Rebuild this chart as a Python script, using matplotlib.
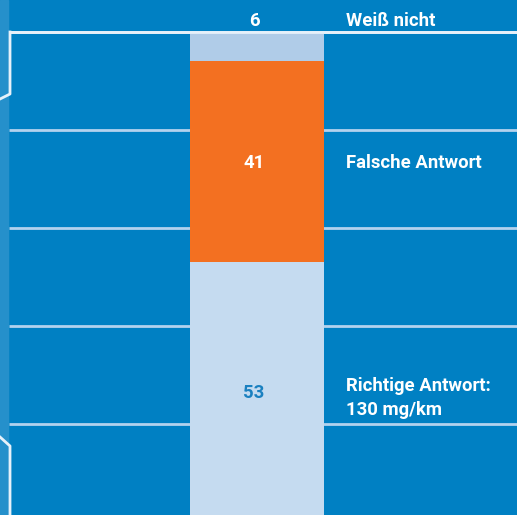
import matplotlib.pyplot as plt
import numpy as np

# answers in percent, stacked from the bottom up
answers = ['Richtige Antwort:\n130 mg/km', 'Falsche Antwort', 'Weiß nicht']
shares = [53, 41, 6]
bar_colors = ['#c5dbf0', '#f37021', '#b0cce8']
value_colors = ['#1a80c0', 'white', 'white']
grid_levels = [20, 40, 60, 80, 100]

BG = '#0080c3'
px = 4.9  # pixels per percent point


def y_of(pixel):
    # reference pixel row -> value on the axis (0 sits 7 px below the image)
    return (522 - pixel) / px


plt.rcParams['font.family'] = ['Roboto', 'DejaVu Sans']

fig = plt.figure(figsize=(5.17, 5.15), dpi=100)
fig.patch.set_facecolor(BG)
ax = fig.add_axes([0, 0, 1, 1])
ax.set_facecolor(BG)
ax.set_xlim(0, 517)
ax.set_ylim(y_of(515), y_of(0))
ax.axis('off')

# lighter strip along the left edge
ax.axvspan(0, 8, color='#2590cb', zorder=0)

# grid lines behind the bar
for level in grid_levels:
    color = '#e6f1fa' if level == 100 else '#b3d2ee'
    ax.plot([9, 517], [level, level], color=color, lw=2, zorder=1,
            solid_capstyle='butt')

# bracket marks on the left edge
ax.plot([0, 10, 10], [y_of(99), y_of(94), 100], color='#e6f1fa', lw=2, zorder=1)
ax.plot([0, 10, 10], [y_of(437), y_of(446), y_of(520)], color='#e6f1fa', lw=2, zorder=1)

bottoms = np.concatenate([[0], np.cumsum(shares)[:-1]])
ax.bar(257, shares, bottom=bottoms, width=134, color=bar_colors, zorder=2)

# redraw the top line over the bar
ax.plot([9, 517], [100, 100], color='#e6f1fa', lw=2, zorder=3, solid_capstyle='butt')

for label, share, bottom, vcol in zip(answers, shares, bottoms, value_colors):
    if share < 10:
        y = 100 + 11 / px
    else:
        y = bottom + share / 2 - 1 / px
    ax.text(254, y, str(share), color=vcol, fontsize=13.3, fontweight='bold',
            ha='center', va='center', zorder=4)
    if '\n' in label:
        y -= 5 / px
    ax.text(346, y, label, color='white', fontsize=13.3, fontweight='bold',
            ha='left', va='center', linespacing=1.4, zorder=4)

fig.savefig('out.png', dpi=100, facecolor=BG)
